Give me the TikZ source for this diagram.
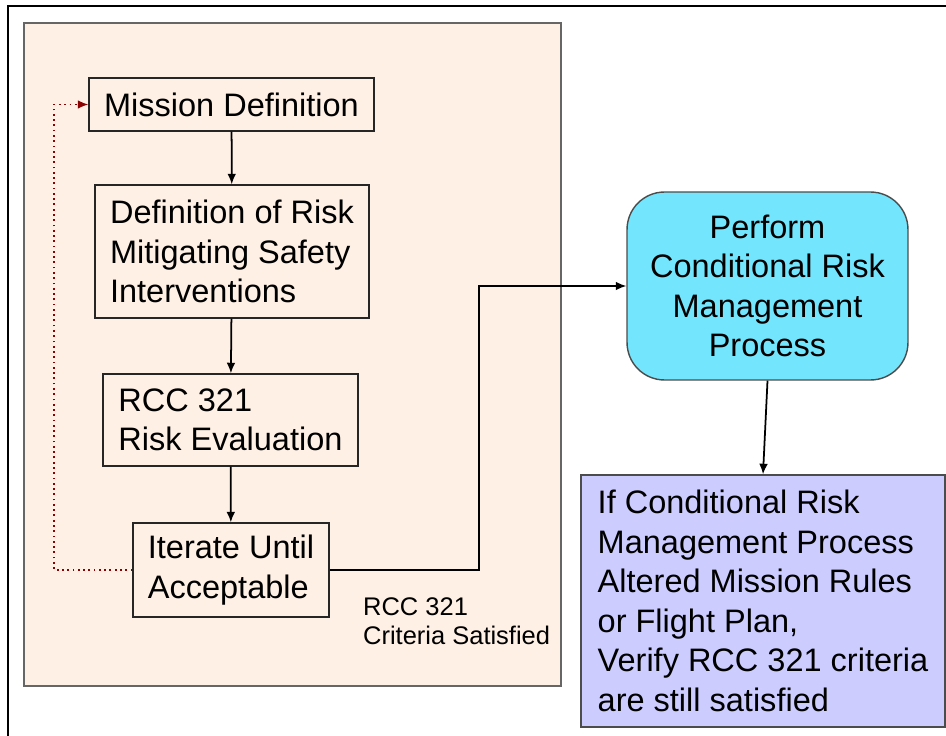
\documentclass[tikz,border=0pt]{standalone}
\usepackage{fontspec}
\setmainfont{Liberation Sans}
\usetikzlibrary{arrows,arrows.meta,positioning,calc}
\definecolor{panelpeach}{HTML}{FEF0E4}
\definecolor{crmcyan}{HTML}{73E5FD}
\definecolor{verifylilac}{HTML}{CCCCFF}
\definecolor{loopred}{HTML}{8B0000}
\tikzstyle{stepbox}=[draw=black!85,fill=panelpeach,rectangle,line width=0.8pt,align=left,inner sep=2pt]
\tikzstyle{crmbox}=[draw=black!70,fill=crmcyan,rectangle,rounded corners=0.75cm,line width=0.8pt,align=center]
\tikzstyle{verifybox}=[draw=black!70,fill=verifylilac,rectangle,line width=0.8pt,align=left]
\tikzstyle{flow}=[-{Latex[length=6pt,width=5pt]},line width=1pt]
\tikzstyle{loopback}=[-{Latex[length=6pt,width=5pt]},draw=loopred,dotted,line width=1pt]

\begin{document}
\begin{tikzpicture}[x=0.02cm,y=-0.02cm]
\tikzstyle{every node}=[font=\fontsize{18.5}{22.5}\selectfont]
\useasboundingbox (0,0) rectangle (946,736);
% outer frame and panel
\draw[line width=1.2pt] (8,760) -- (8,6) -- (960,6);
\draw[draw=black!60,fill=panelpeach,line width=0.8pt] (24,23) rectangle (561,686);
% steps inside the panel
\node [stepbox,minimum width=5.7cm,minimum height=1.06cm] (mission) at (231.5,104.5) {Mission Definition};
\node [stepbox,minimum width=5.48cm,minimum height=2.66cm] (mitigate) at (232,251.5) {Definition of Risk\\Mitigating Safety\\Interventions};
\node [stepbox,minimum width=5.1cm,minimum height=1.84cm] (evaluate) at (230.5,420) {RCC 321\\Risk Evaluation};
\node [stepbox,minimum width=3.92cm,minimum height=1.88cm] (iterate) at (231,570) {Iterate Until\\Acceptable};
\node [anchor=west,align=left,font=\fontsize{14.5}{16.5}\selectfont] (criteria) at (357,621.5) {RCC 321\\Criteria Satisfied};
% right side
\node [crmbox,minimum width=5.62cm,minimum height=3.76cm] (perform) at (767.5,286) {Perform\\Conditional Risk\\Management\\Process};
\node [verifybox,minimum width=7.28cm,minimum height=5.04cm] (verify) at (763,601) {If Conditional Risk\\Management Process\\Altered Mission Rules\\or Flight Plan,\\Verify RCC 321 criteria\\are still satisfied};
% connectors
\draw [flow] (mission) -- (mitigate);
\draw [flow] (mitigate) -- (evaluate);
\draw [flow] (evaluate) -- (iterate);
\draw [loopback] (iterate.west) -- ++(-78,0) |- (mission.west);
\draw [flow] (iterate.east) -- ++(149,0) |- (perform.west);
\draw [flow] (perform.south) -- (verify.north);
\end{tikzpicture}
\end{document}
